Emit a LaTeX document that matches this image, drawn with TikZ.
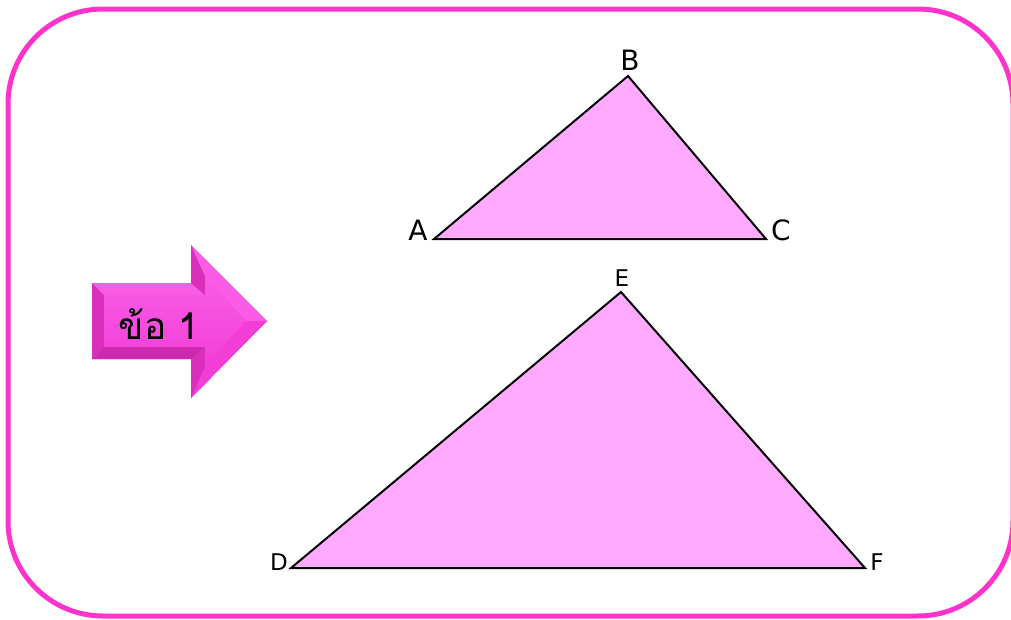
\documentclass[tikz,border=0pt]{standalone}
\usepackage{fontspec}
\setmainfont{DejaVu Sans}
\newfontfamily\thaifont[Script=Thai]{Loma}
\usetikzlibrary{calc}
\definecolor{framepink}{RGB}{255,51,204}
\definecolor{trifill}{RGB}{255,170,255}
\definecolor{arrmid}{RGB}{242,62,215}
\definecolor{arrlight}{RGB}{250,92,230}
\definecolor{arrdark}{RGB}{218,46,188}
\definecolor{arrdeep}{RGB}{205,40,176}
\tikzset{
  frame/.style={draw=framepink, line width=5pt, rounded corners=95pt},
  tri/.style={draw=black, fill=trifill, line width=2pt, line join=miter},
  biglabel/.style={font=\fontsize{28}{30}\selectfont, inner sep=0pt},
  smalllabel/.style={font=\fontsize{23}{25}\selectfont, inner sep=0pt},
}
\begin{document}
\begin{tikzpicture}[x=1pt,y=-1pt]
\useasboundingbox (0,0) rectangle (1011,619);
% frame
\draw[frame] (8,9) rectangle (1013,616);

% triangle ABC
\coordinate (A) at (434,239);
\coordinate (B) at (628,76);
\coordinate (C) at (766,239);
\draw[tri] (A) -- (B) -- (C) -- cycle;
\node[biglabel] (lA) at (418,230) {A};
\node[biglabel] (lB) at (630,60) {B};
\node[biglabel] (lC) at (781,230) {C};

% triangle DEF
\coordinate (D) at (291,568);
\coordinate (E) at (621,292);
\coordinate (F) at (865,568);
\draw[tri] (D) -- (E) -- (F) -- cycle;
\node[smalllabel] (lD) at (279,562) {D};
\node[smalllabel] (lE) at (622,278) {E};
\node[smalllabel] (lF) at (877,562) {F};

% arrow
\coordinate (o1) at (92,283);
\coordinate (o2) at (191,283);
\coordinate (o3) at (191,245);
\coordinate (o4) at (267,321);
\coordinate (o5) at (191,398);
\coordinate (o6) at (191,359);
\coordinate (o7) at (92,359);
\coordinate (i1) at (104,295);
\coordinate (i2) at (205,295);
\coordinate (i3) at (205,276);
\coordinate (i4) at (246,321);
\coordinate (i5) at (205,366);
\coordinate (i6) at (205,347);
\coordinate (i7) at (104,347);
% shadow
\fill[black, opacity=0.10, shift={(3,4)}] (o1) -- (o2) -- (o3) -- (o4) -- (o5) -- (o6) -- (o7) -- cycle;
\fill[black, opacity=0.07, shift={(6,7)}] (o1) -- (o2) -- (o3) -- (o4) -- (o5) -- (o6) -- (o7) -- cycle;
% base
\fill[arrmid] (o1) -- (o2) -- (o3) -- (o4) -- (o5) -- (o6) -- (o7) -- cycle;
% facets
\fill[arrlight] (o1) -- (o2) -- (i2) -- (i1) -- cycle;
\fill[arrdark] (o2) -- (o3) -- (i3) -- (i2) -- cycle;
\fill[arrlight] (o3) -- (o4) -- (i4) -- (i3) -- cycle;
\fill[arrmid] (o4) -- (o5) -- (i5) -- (i4) -- cycle;
\fill[arrdark] (o5) -- (o6) -- (i6) -- (i5) -- cycle;
\fill[arrdeep] (o6) -- (o7) -- (i7) -- (i6) -- cycle;
\fill[arrdark] (o7) -- (o1) -- (i1) -- (i7) -- cycle;
% inner face
\shade[top color=arrlight, bottom color=arrmid] (i1) -- (i2) -- (i3) -- (i4) -- (i5) -- (i6) -- (i7) -- cycle;
\node[font=\thaifont\fontsize{37}{40}\selectfont, inner sep=0pt] (lbl) at (159,324) {ข้อ 1};
\end{tikzpicture}
\end{document}
